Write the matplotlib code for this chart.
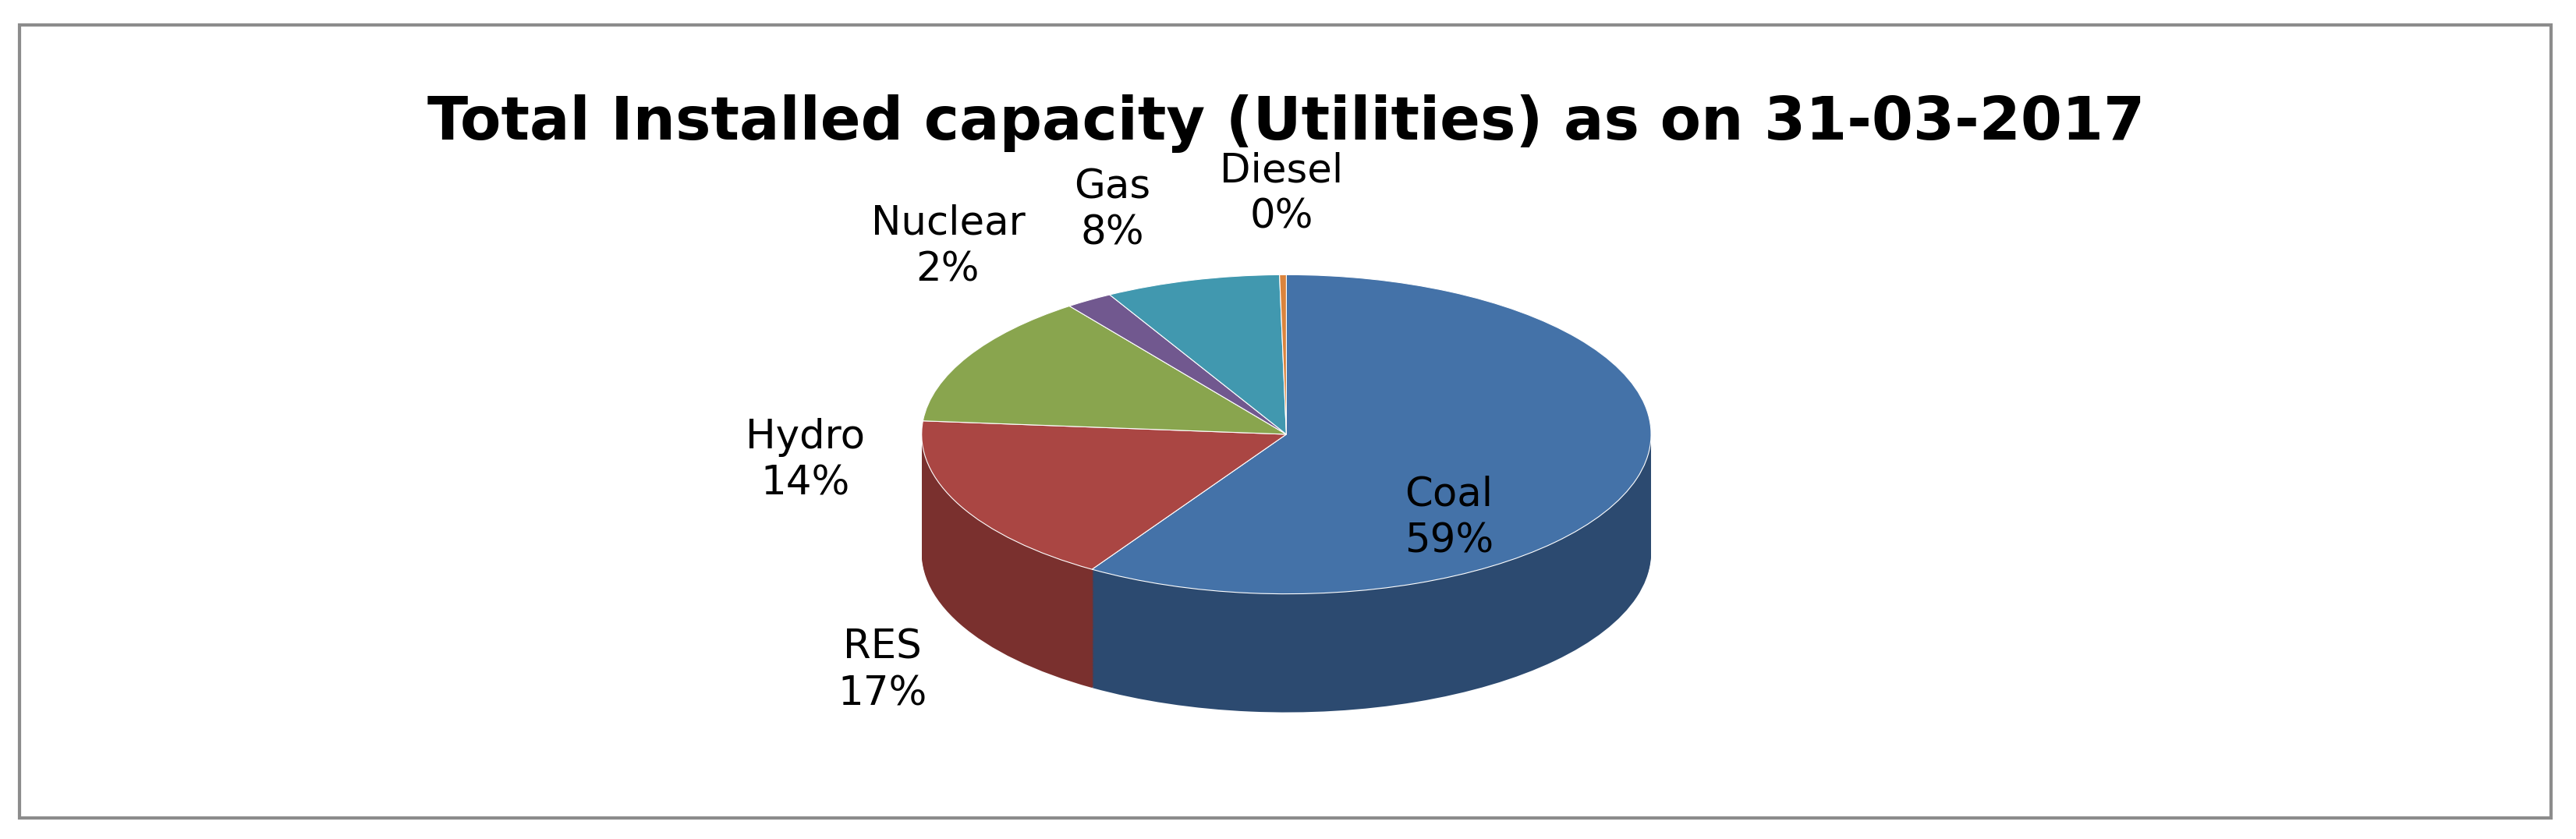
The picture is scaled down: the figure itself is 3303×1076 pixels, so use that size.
import matplotlib.pyplot as plt
from matplotlib.patches import Wedge, Rectangle
import numpy as np

labels = ['Coal', 'RES', 'Hydro', 'Nuclear', 'Gas', 'Diesel']
shares = [59.3, 17.5, 13.6, 2.1, 7.8, 0.3]
pct_text = ['59%', '17%', '14%', '2%', '8%', '0%']
colors = ['#4472A8', '#AA4643', '#89A54E', '#71588F', '#4198AF', '#DB843D']
side_colors = ['#2C4A70', '#7A302E', '#5E7236', '#4C3B61', '#2B6676', '#A05F2A']

W, H = 1568, 510  # layout units of the reference
fig = plt.figure(figsize=(33.03, 10.76), dpi=100)
bg = fig.add_axes([0, 0, 1, 1])
bg.set_xlim(0, W)
bg.set_ylim(H, 0)
bg.axis('off')
bg.add_patch(Rectangle((12, 15), 1541, 482, fill=False, edgecolor='#8C8C8C', lw=3))
bg.text(783, 75, 'Total Installed capacity (Utilities) as on 31-03-2017',
        ha='center', va='center', fontsize=55, fontweight='bold', family='DejaVu Sans')

# pie axes: 1 data unit = rx px horizontally, ry px vertically
cx, cy, rx, ry, depth = 783, 264, 222, 97, 72
d = depth / ry
ax = fig.add_axes([(cx - rx) / W, (H - (cy + ry + depth)) / H, 2 * rx / W, (2 * ry + depth) / H])
ax.set_xlim(-1, 1)
ax.set_ylim(-1 - d, 1)
ax.axis('off')

fracs = np.array(shares) / sum(shares)
ends = 90 - np.cumsum(fracs) * 360
starts = ends + fracs * 360
for off in np.linspace(d, 0.005, 80):
    for a1, a2, c in zip(ends, starts, side_colors):
        ax.add_patch(Wedge((0, -off), 1, a1, a2, color=c, lw=0))
for a1, a2, c in zip(ends, starts, colors):
    ax.add_patch(Wedge((0, 0), 1, a1, a2, facecolor=c, edgecolor='white', lw=0.8))

# labels on an overlay axes so they sit above the pie
top = fig.add_axes([0, 0, 1, 1])
top.set_xlim(0, W)
top.set_ylim(H, 0)
top.axis('off')
label_pos = [(882, 315), (537, 408), (490, 280), (577, 150), (677, 128), (780, 118)]
for lab, p, (x, y) in zip(labels, pct_text, label_pos):
    top.text(x, y, lab + '\n' + p, ha='center', va='center', fontsize=37,
             linespacing=1.25, color='black')

fig.savefig('out.png', dpi=100)
